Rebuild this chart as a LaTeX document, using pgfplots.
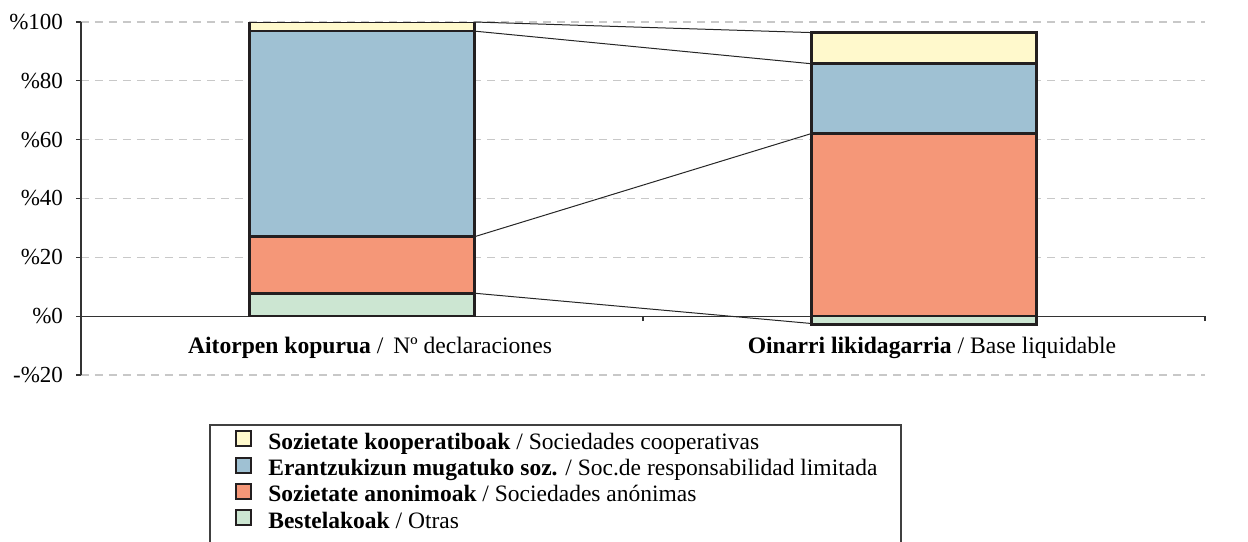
\documentclass[border=0pt]{standalone}
\usepackage{pgfplots}
\pgfplotsset{compat=1.18}
\usepackage{fontspec}
\setmainfont{Liberation Serif}

\definecolor{cCoop}{HTML}{FFF9CC}
\definecolor{cSRL}{HTML}{9FC1D3}
\definecolor{cSA}{HTML}{F59778}
\definecolor{cBest}{HTML}{CCE6D2}
\definecolor{cEdge}{HTML}{231F20}
\definecolor{cGrid}{HTML}{C8C8C8}

\newcommand{\tickfont}{\fontsize{11.5}{13}\selectfont}
\newcommand{\catfont}{\fontsize{11.8}{14}\selectfont}
\newcommand{\legfont}{\fontsize{11.75}{13}\selectfont}

\pgfplotsset{
  common/.style={
    at={(0pt,0pt)}, anchor=south west,
    width=562pt, height=176.5pt, scale only axis,
    xmin=-0.5, xmax=1.5, ymin=-20, ymax=100,
  },
  segment/.style={fill=#1, draw=cEdge, line width=1.3pt},
}

\begin{document}
\begin{tikzpicture}
\useasboundingbox (-40.5pt,-83pt) rectangle (583.5pt,187.5pt);

% stacked bars
\begin{axis}[
  common,
  ybar stacked, bar width=0.4,
  axis x line=middle, axis y line=left,
  axis line style={-, draw=black!80, line width=0.6pt},
  hide obscured x ticks=false, hide obscured y ticks=false,
  ytick={-20,0,20,40,60,80,100},
  yticklabels={-\%20,\%0,\%20,\%40,\%60,\%80,\%100},
  yticklabel style={font=\tickfont, xshift=-3pt},
  ymajorgrids,
  major grid style={cGrid, line width=0.6pt, dash pattern=on 4pt off 3pt},
  xtick={-0.5,0.5,1.5}, xticklabels={},
  extra x ticks={0,1},
  extra x tick labels={{\textbf{Aitorpen kopurua} /\ \,Nº declaraciones},{\textbf{Oinarri likidagarria} / Base liquidable}},
  extra x tick style={major tick length=0pt},
  xticklabel style={font=\catfont, yshift=-7pt, xshift=4pt},
  tick align=outside, major tick length=2.5pt,
  tick style={black!80, line width=0.6pt},
  /pgf/number format/assume math mode=true,
  reverse legend,
  legend cell align=left,
  legend style={at={(axis description cs:0.137,-0.156)}, anchor=north west,
    draw=none, fill=none, inner sep=0pt, row sep=1.1pt, column sep=8pt,
    font=\legfont,
    nodes={inner sep=0pt, text height=8pt, text depth=2.5pt}},
  legend image code/.code={\draw[#1, /tikz/line width=1pt] (0pt,-1.25pt) rectangle (7.5pt,6.25pt);},
]
\addplot[segment=cBest] coordinates {(0,7.8) (1,0)};
\addplot[segment=cSA]   coordinates {(0,19.2) (1,62.1)};
\addplot[segment=cSRL]  coordinates {(0,69.9) (1,23.7)};
\addplot[segment=cCoop] coordinates {(0,3.1) (1,10.6)};
\addlegendentry{\textbf{Bestelakoak} / Otras}
\addlegendentry{\textbf{Sozietate anonimoak} / Sociedades anónimas}
\addlegendentry{\textbf{Erantzukizun mugatuko soz.} / Soc.de responsabilidad limitada}
\addlegendentry{\textbf{Sozietate kooperatiboak} / Sociedades cooperativas}
\end{axis}

% negative segment and series lines
\begin{axis}[common, hide axis]
\addplot[ybar, bar width=0.4, segment=cBest] coordinates {(1,-2.9)};
\addplot[black!85, line width=0.5pt] coordinates {(0.2,100) (0.8,96.4)};
\addplot[black!85, line width=0.5pt] coordinates {(0.2,96.9) (0.8,85.8)};
\addplot[black!85, line width=0.5pt] coordinates {(0.2,27.0) (0.8,62.1)};
\addplot[black!85, line width=0.5pt] coordinates {(0.2,7.8) (0.8,-2.5)};
\end{axis}

% legend frame, open at the bottom
\draw[black!75, line width=0.6pt] (64.5pt,-90pt) |- (410pt,-25pt) -- (410pt,-90pt);
\end{tikzpicture}
\end{document}
